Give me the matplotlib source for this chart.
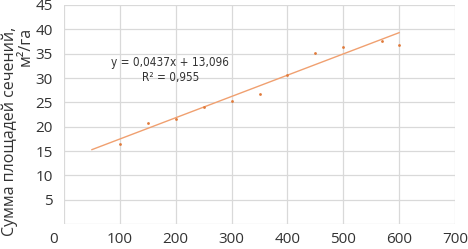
import matplotlib
matplotlib.use("Agg")
import matplotlib.pyplot as plt
import matplotlib.transforms as mtransforms

x_vals = [100, 150, 200, 250, 300, 350, 400, 450, 500, 570, 600]
y_vals = [16.5, 20.7, 21.5, 24.1, 25.3, 26.8, 30.6, 35.2, 36.3, 37.6, 36.7]
slope = 0.0437
intercept = 13.096
trend_x = [50, 600]
x_ticks = [0, 100, 200, 300, 400, 500, 600, 700]
y_ticks = [5, 10, 15, 20, 25, 30, 35, 40, 45]
y_label = "Сумма площадей сечений,\nм²/га"
eq_text = "y = 0,0437x + 13,096\nR² = 0,955"

plt.rcParams['font.family'] = ['Open Sans', 'DejaVu Sans']

fig = plt.figure(figsize=(4.68, 2.49), dpi=100)
ax = fig.add_axes([64/468, 25/249, (455-64)/468, (224-5)/249])

ax.set_xlim(0, 700)
ax.set_ylim(0, 45)
ax.set_xticks(x_ticks)
ax.set_yticks(y_ticks)
ax.grid(True, color="#D9D9D9", linewidth=0.9)
ax.set_axisbelow(True)
for s in ax.spines.values():
    s.set_visible(False)
ax.axhline(0, color="#D9D9D9", linewidth=0.9, zorder=0)
ax.tick_params(length=0, labelsize=11, labelcolor="#333333", pad=8)
ax.tick_params(axis='x', pad=6)

trend_y = [slope * t + intercept for t in trend_x]
ax.plot(trend_x, trend_y, color="#F0A070", linewidth=1.0, zorder=2)
ax.scatter(x_vals, y_vals, s=4, color="#E07A3A", zorder=3, linewidths=0)

ax.text(190, 31.7, eq_text, ha='center', va='center', fontsize=8.5,
        family=['DejaVu Sans'], fontstretch='condensed', color="#333333",
        linespacing=1.2)

# shift the "0" tick label slightly left as in reference
lbls = ax.get_xticklabels()
offset = mtransforms.ScaledTranslation(-10/100, 0, fig.dpi_scale_trans)
lbls[0].set_transform(lbls[0].get_transform() + offset)

fig.text(0.038, 118/249, y_label, rotation=90, ha='center', va='center',
         multialignment='right', fontsize=11.5, color="#333333", linespacing=1.0,
         transform=fig.transFigure)

fig.savefig("out.png", dpi=100)
